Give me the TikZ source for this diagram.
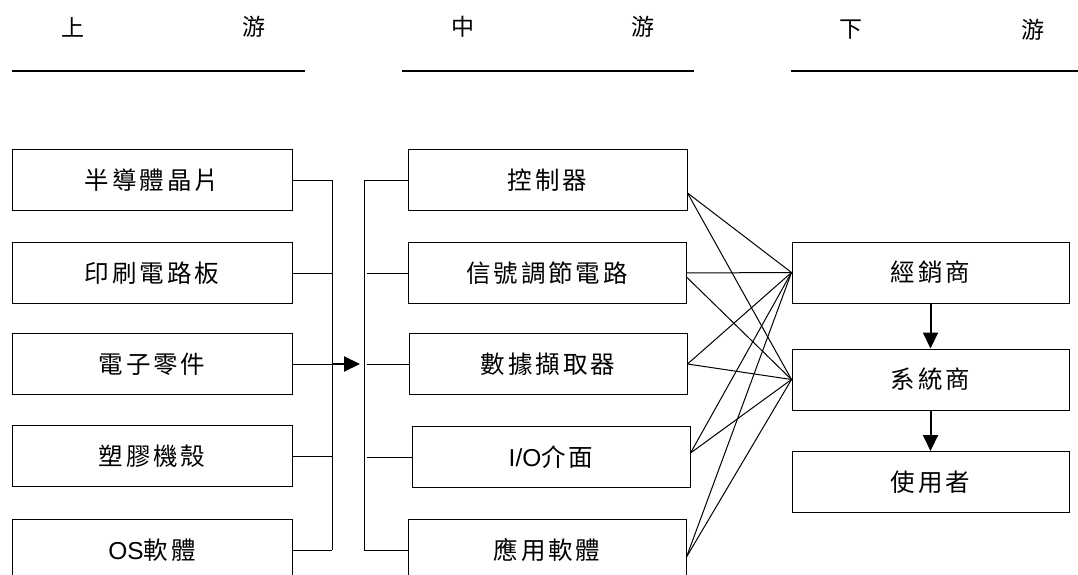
\documentclass[tikz,border=0pt]{standalone}
\usepackage{fontspec}
\newfontfamily\cjkfont[LetterSpace=12]{Noto Sans CJK TC}
\newfontfamily\latinfont{Liberation Sans}
\usetikzlibrary{arrows.meta}

\begin{document}
\begin{tikzpicture}[x=1pt,y=-1pt,
    box/.style={draw,line width=1pt,minimum height=61pt,inner sep=0pt,
      font=\cjkfont\fontsize{24.5}{28}\selectfont},
    head/.style={font=\cjkfont\fontsize{23}{26}\selectfont},
    wire/.style={line width=1pt},
    flow/.style={line width=2pt,-{Triangle[length=16pt,width=15pt]}}]
  \clip (0,0) rectangle (1078,575);
  % headers
  \node[head] (up1) at (73,27) {上};
  \node[head] (up2) at (254,27) {游};
  \node[head] (mid1) at (463,27) {中};
  \node[head] (mid2) at (643,27) {游};
  \node[head] (down1) at (851,30) {下};
  \node[head] (down2) at (1033,30) {游};
  \draw[line width=1.4pt] (12,71) -- (305,71);
  \draw[line width=1.4pt] (402,71) -- (694,71);
  \draw[line width=1.4pt] (791,71) -- (1078,71);

  % upstream
  \node[box,minimum width=280pt] (a1) at (152,180) {半導體晶片};
  \node[box,minimum width=280pt] (a2) at (152,273) {印刷電路板};
  \node[box,minimum width=280pt] (a3) at (152,364) {電子零件};
  \node[box,minimum width=280pt] (a4) at (152,456) {塑膠機殼};
  \node[box,minimum width=280pt] (a5) at (152,550) {{\latinfont OS}軟體};

  % midstream
  \node[box,minimum width=279pt] (c1) at (547.5,180) {控制器};
  \node[box,minimum width=278pt] (c2) at (547,273) {信號調節電路};
  \node[box,minimum width=278pt] (c3) at (548,364) {數據擷取器};
  \node[box,minimum width=278pt] (c4) at (551,457) {{\latinfont I/O}介面};
  \node[box,minimum width=278pt] (c5) at (547,550) {應用軟體};

  % downstream
  \node[box,minimum width=277pt] (d1) at (930.5,272.5) {經銷商};
  \node[box,minimum width=277pt] (d2) at (930.5,379.5) {系統商};
  \node[box,minimum width=277pt] (d3) at (930.5,482) {使用者};

  % buses
  \coordinate (lbus) at (332,0);
  \coordinate (rbus) at (364,0);
  \coordinate (tip) at (360,364);
  \draw[wire] (lbus |- a1.east) -- (lbus |- a5.east);
  \foreach \n in {a1,a2,a3,a4,a5}
    \draw[wire] (\n.east) -- (\n.east -| lbus);
  \draw[flow] (lbus |- a3.east) -- (tip);
  \draw[wire] (c1.west) -| (rbus |- c5.west) -- (c5.west);
  \foreach \n in {c2,c3,c4}
    \draw[wire] ([xshift=3pt]rbus |- \n.west) -- (\n.west);

  % crossing lines
  \coordinate (c1o) at ([yshift=-13pt]c1.east);
  \coordinate (c2o) at ([yshift=-4pt]c2.east);
  \coordinate (c4o) at ([yshift=4pt]c4.east);
  \coordinate (c5o) at ([yshift=-7pt]c5.east);
  \draw[wire] (c1o) -- (d1.west);
  \draw[wire] (c1o) -- (d2.west);
  \draw[wire] (c2.east) -- (d1.west);
  \draw[wire] (c2o) -- (d2.west);
  \draw[wire] (c3.east) -- (d1.west);
  \draw[wire] (c3.east) -- (d2.west);
  \draw[wire] (c4o) -- (d1.west);
  \draw[wire] (c4o) -- (d2.west);
  \draw[wire] (c5o) -- (d1.west);
  \draw[wire] (c5o) -- (d2.west);

  % down arrows
  \draw[flow] (d1.south) -- (d2.north);
  \draw[flow] (d2.south) -- (d3.north);
\end{tikzpicture}
\end{document}
